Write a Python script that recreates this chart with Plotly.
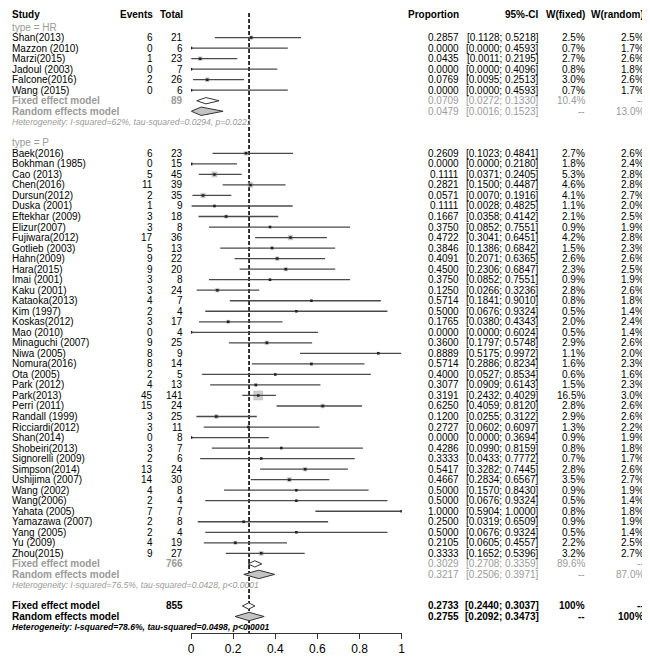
import plotly.graph_objects as go

# ---------------- data ----------------
hr_study = ["Shan(2013)", "Mazzon (2010)", "Marzi(2015)", "Jadoul (2003)",
            "Falcone(2016)", "Wang (2015)"]
hr_events = [6, 0, 1, 0, 2, 0]
hr_total = [21, 6, 23, 7, 26, 6]
hr_prop = [0.2857, 0.0, 0.0435, 0.0, 0.0769, 0.0]
hr_lower = [0.1128, 0.0, 0.0011, 0.0, 0.0095, 0.0]
hr_upper = [0.5218, 0.4593, 0.2195, 0.4096, 0.2513, 0.4593]
hr_wfixed = [2.5, 0.7, 2.7, 0.8, 3.0, 0.7]
hr_wrandom = [2.5, 1.7, 2.6, 1.8, 2.6, 1.7]

p_study = ["Baek(2016)", "Bokhman (1985)", "Cao (2013)", "Chen(2016)", "Dursun(2012)",
           "Duska (2001)", "Eftekhar (2009)", "Elizur(2007)", "Fujiwara(2012)",
           "Gotlieb (2003)", "Hahn(2009)", "Hara(2015)", "Imai (2001)", "Kaku (2001)",
           "Kataoka(2013)", "Kim (1997)", "Koskas(2012)", "Mao (2010)",
           "Minaguchi (2007)", "Niwa (2005)", "Nomura(2016)", "Ota (2005)",
           "Park (2012)", "Park(2013)", "Perri (2011)", "Randall (1999)",
           "Ricciardi(2012)", "Shan(2014)", "Shobeiri(2013)", "Signorelli (2009)",
           "Simpson(2014)", "Ushijima (2007)", "Wang (2002)", "Wang(2006)",
           "Yahata (2005)", "Yamazawa (2007)", "Yang (2005)", "Yu (2009)", "Zhou(2015)"]
p_events = [6, 0, 5, 11, 2, 1, 3, 3, 17, 5, 9, 9, 3, 3, 4, 2, 3, 0, 9, 8, 8, 2, 4,
            45, 15, 3, 3, 0, 3, 2, 13, 14, 4, 2, 7, 2, 2, 4, 9]
p_total = [23, 15, 45, 39, 35, 9, 18, 8, 36, 13, 22, 20, 8, 24, 7, 4, 17, 4, 25, 9,
           14, 5, 13, 141, 24, 25, 11, 8, 7, 6, 24, 30, 8, 4, 7, 8, 4, 19, 27]
p_prop = [0.2609, 0.0, 0.1111, 0.2821, 0.0571, 0.1111, 0.1667, 0.3750, 0.4722,
          0.3846, 0.4091, 0.4500, 0.3750, 0.1250, 0.5714, 0.5000, 0.1765, 0.0,
          0.3600, 0.8889, 0.5714, 0.4000, 0.3077, 0.3191, 0.6250, 0.1200, 0.2727,
          0.0, 0.4286, 0.3333, 0.5417, 0.4667, 0.5000, 0.5000, 1.0000, 0.2500,
          0.5000, 0.2105, 0.3333]
p_lower = [0.1023, 0.0, 0.0371, 0.1500, 0.0070, 0.0028, 0.0358, 0.0852, 0.3041,
           0.1386, 0.2071, 0.2306, 0.0852, 0.0266, 0.1841, 0.0676, 0.0380, 0.0,
           0.1797, 0.5175, 0.2886, 0.0527, 0.0909, 0.2432, 0.4059, 0.0255, 0.0602,
           0.0, 0.0990, 0.0433, 0.3282, 0.2834, 0.1570, 0.0676, 0.5904, 0.0319,
           0.0676, 0.0605, 0.1652]
p_upper = [0.4841, 0.2180, 0.2405, 0.4487, 0.1916, 0.4825, 0.4142, 0.7551, 0.6451,
           0.6842, 0.6365, 0.6847, 0.7551, 0.3236, 0.9010, 0.9324, 0.4343, 0.6024,
           0.5748, 0.9972, 0.8234, 0.8534, 0.6143, 0.4029, 0.8120, 0.3122, 0.6097,
           0.3694, 0.8159, 0.7772, 0.7445, 0.6567, 0.8430, 0.9324, 1.0000, 0.6509,
           0.9324, 0.4557, 0.5396]
p_wfixed = [2.7, 1.8, 5.3, 4.6, 4.1, 1.1, 2.1, 0.9, 4.2, 1.5, 2.6, 2.3, 0.9, 2.8,
            0.8, 0.5, 2.0, 0.5, 2.9, 1.1, 1.6, 0.6, 1.5, 16.5, 2.8, 2.9, 1.3, 0.9,
            0.8, 0.7, 2.8, 3.5, 0.9, 0.5, 0.8, 0.9, 0.5, 2.2, 3.2]
p_wrandom = [2.6, 2.4, 2.8, 2.8, 2.7, 2.0, 2.5, 1.9, 2.8, 2.3, 2.6, 2.5, 1.9, 2.6,
             1.8, 1.4, 2.4, 1.4, 2.6, 2.0, 2.3, 1.6, 2.3, 3.0, 2.6, 2.6, 2.2, 1.9,
             1.8, 1.7, 2.6, 2.7, 1.9, 1.4, 1.8, 1.9, 1.4, 2.5, 2.7]

# pooled results: [estimate, lower, upper]
hr_n, hr_fixed, hr_random = 89, [0.0709, 0.0272, 0.1330], [0.0479, 0.0016, 0.1523]
hr_wf_sum, hr_wr_sum = "10.4%", "13.0%"
hr_het = "Heterogeneity: I-squared=62%, tau-squared=0.0294, p=0.0221"
p_n, p_fixed, p_random = 766, [0.3029, 0.2708, 0.3359], [0.3217, 0.2506, 0.3971]
p_wf_sum, p_wr_sum = "89.6%", "87.0%"
p_het = "Heterogeneity: I-squared=76.5%, tau-squared=0.0428, p<0.0001"
all_n, all_fixed, all_random = 855, [0.2733, 0.2440, 0.3037], [0.2755, 0.2092, 0.3473]
all_het = "Heterogeneity: I-squared=78.6%, tau-squared=0.0498, p<0.0001"

x_ticks = [0, 0.2, 0.4, 0.6, 0.8, 1]
x_tick_text = ["0", "0.2", "0.4", "0.6", "0.8", "1"]

# ---------------- layout constants (page pixels) ----------------
PAGE_W, PAGE_H = 650, 657
OFF = 8                           # page offset of the plot div
W, H = PAGE_W - OFF, PAGE_H - OFF
ROW0, ROWH = 6.0, 10.526          # page y of row 0 and row height
AXIS_PX = 633                     # page y of x axis line
X0_PX, X1_PX = 190, 403           # page x of 0 and 1
HEADER_PX = 14                    # page y of header row
FONT = "Liberation Sans, Arial, sans-serif"
GRAY = "#9a9a9a"
LINE = "#4a4a4a"

# columns: (page x, anchor)
COL_STUDY = (OFF, "left")
COL_EVENTS = (153, "right")
COL_TOTAL = (183, "right")
COL_PROP = (462, "right")
COL_CI = (543, "right")
COL_WF = (589, "right")
COL_WR = (649, "right")


def px_to_row(py):
    return (py - ROW0) / ROWH


annotations = []


def txt(col, row, s, color="black", size=10, bold=False, italic=False):
    if bold:
        s = "<b>" + s + "</b>"
    if italic:
        s = "<i>" + s + "</i>"
    annotations.append(dict(x=(col[0] - OFF) / W, y=row, xref="paper", yref="y", text=s,
                            xanchor=col[1], yanchor="middle", showarrow=False,
                            font=dict(family=FONT, size=size, color=color),
                            borderpad=0))


# header
hrow = px_to_row(HEADER_PX)
txt(COL_STUDY, hrow, "Study", bold=True)
txt(COL_EVENTS, hrow, "Events", bold=True)
txt(COL_TOTAL, hrow, "Total", bold=True)
txt(COL_PROP, hrow, "Proportion", bold=True)
txt(COL_CI, hrow, "95%-CI", bold=True)
txt(COL_WF, hrow, "W(fixed)", bold=True)
txt(COL_WR, hrow, "W(random)", bold=True)

lines_x, lines_y = [], []
sq_x, sq_y, sq_s = [], [], []
diamonds = []


def summary(r, n, fixed, random, wf_sum, wr_sum, het, color, bold):
    txt(COL_STUDY, r, "Fixed effect model", color=color, bold=True)
    txt(COL_TOTAL, r, str(n), color=color, bold=True)
    txt(COL_PROP, r, "%.4f" % fixed[0], color=color, bold=bold)
    txt(COL_CI, r, "[%.4f; %.4f]" % (fixed[1], fixed[2]), color=color, bold=bold)
    txt(COL_WF, r, wf_sum, color=color, bold=bold)
    txt(COL_WR, r, "--", color=color, bold=bold)
    txt(COL_STUDY, r + 1, "Random effects model", color=color, bold=True)
    txt(COL_PROP, r + 1, "%.4f" % random[0], color=color, bold=bold)
    txt(COL_CI, r + 1, "[%.4f; %.4f]" % (random[1], random[2]), color=color, bold=bold)
    txt(COL_WF, r + 1, "--", color=color, bold=bold)
    txt(COL_WR, r + 1, wr_sum, color=color, bold=bold)
    txt(COL_STUDY, r + 2, het, color=color, size=8.6, bold=bold, italic=True)
    diamonds.append((r, fixed, 0.3, "white"))
    diamonds.append((r + 1, random, 0.4, "#c4c4c4"))


def add_group(label, row, study, events, total, prop, lower, upper, wf, wr,
              n, fixed, random, wf_sum, wr_sum, het):
    txt(COL_STUDY, row, label, color=GRAY)
    r = row + 1
    for i in range(len(study)):
        txt(COL_STUDY, r, study[i])
        txt(COL_EVENTS, r, str(events[i]))
        txt(COL_TOTAL, r, str(total[i]))
        txt(COL_PROP, r, "%.4f" % prop[i])
        txt(COL_CI, r, "[%.4f; %.4f]" % (lower[i], upper[i]))
        txt(COL_WF, r, "%.1f%%" % wf[i])
        txt(COL_WR, r, "%.1f%%" % wr[i])
        lines_x.extend([lower[i], upper[i], None])
        lines_y.extend([r, r, None])
        sq_x.append(prop[i])
        sq_y.append(r)
        sq_s.append(max(2.2 * wf[i] ** 0.5, 2))
        r += 1
    summary(r, n, fixed, random, wf_sum, wr_sum, het, GRAY, False)
    return r + 4


nxt = add_group("type = HR", 2, hr_study, hr_events, hr_total, hr_prop, hr_lower,
                hr_upper, hr_wfixed, hr_wrandom, hr_n, hr_fixed, hr_random,
                hr_wf_sum, hr_wr_sum, hr_het)
nxt = add_group("type = P", nxt, p_study, p_events, p_total, p_prop, p_lower,
                p_upper, p_wfixed, p_wrandom, p_n, p_fixed, p_random,
                p_wf_sum, p_wr_sum, p_het)
summary(nxt, all_n, all_fixed, all_random, "100%", "100%", all_het, "black", True)

y_top = px_to_row(OFF)
y_bot = px_to_row(AXIS_PX)

fig = go.Figure()

# reference line at overall random effects estimate
fig.add_trace(go.Scatter(x=[all_random[0], all_random[0]], y=[px_to_row(13), y_bot],
                         mode="lines", line=dict(color="black", width=1.6, dash="4px,2px"),
                         hoverinfo="skip"))

# study squares (size by fixed weight)
fig.add_trace(go.Scatter(x=sq_x, y=sq_y, mode="markers",
                         marker=dict(symbol="square", size=sq_s, color="#b8b8b8",
                                     line=dict(color="#999999", width=0.5))))
# confidence intervals
fig.add_trace(go.Scatter(x=lines_x, y=lines_y, mode="lines",
                         line=dict(color=LINE, width=1.3)))
# point estimates
fig.add_trace(go.Scatter(x=sq_x, y=sq_y, mode="markers",
                         marker=dict(symbol="square", size=2.5, color="#222")))

# pooled diamonds
for r, est, hh, fill in diamonds:
    fig.add_trace(go.Scatter(x=[est[1], est[0], est[2], est[0], est[1]],
                             y=[r, r - hh, r, r + hh, r], mode="lines",
                             fill="toself", fillcolor=fill,
                             line=dict(color="#333", width=1)))

fig.update_layout(
    width=W, height=H, margin=dict(l=0, r=0, t=0, b=0),
    paper_bgcolor="white", plot_bgcolor="white", showlegend=False,
    annotations=annotations,
    font=dict(family=FONT, size=10, color="black"),
    xaxis=dict(domain=[(X0_PX - OFF) / W, (X1_PX - OFF) / W], range=[0, 1],
               showgrid=False, zeroline=False, showline=True, linecolor="#333",
               linewidth=1, ticks="outside", ticklen=5, tickcolor="#333",
               tickvals=x_ticks, ticktext=x_tick_text,
               tickfont=dict(family=FONT, size=12, color="black")),
    yaxis=dict(domain=[(PAGE_H - AXIS_PX) / H, 1], range=[y_bot, y_top], visible=False),
)

fig.write_html("out.html")
